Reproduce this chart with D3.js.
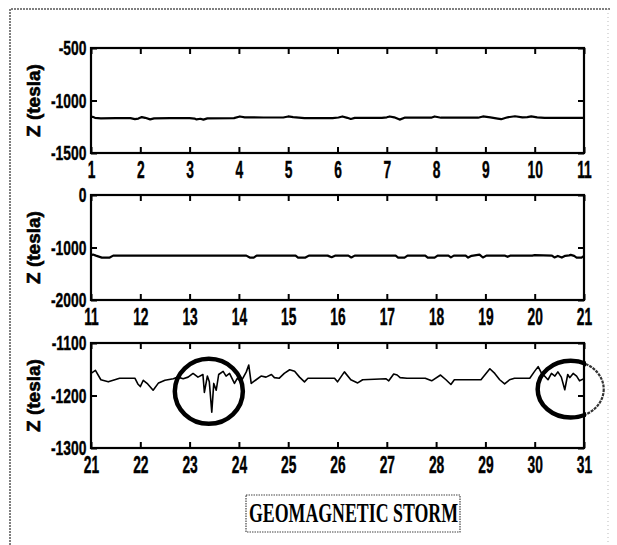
<!DOCTYPE html>
<html>
<head>
<meta charset="utf-8">
<script src="https://cdn.jsdelivr.net/npm/d3@7"></script>
<style>
  body { margin: 0; background: #fff; }
  svg { display: block; }
</style>
</head>
<body>
<div id="chart"></div>
<script>
// days and Z values (tesla) for each panel
var days1 = [1.0, 1.03, 1.08, 1.2, 1.5, 1.8, 1.89, 1.96, 2.03, 2.1, 2.2, 2.28, 2.6, 3.0, 3.1, 3.14, 3.22, 3.28, 3.36, 3.9,
    4.02, 4.12, 4.5, 4.9, 5.0, 5.1, 5.33, 5.9, 6.02, 6.1, 6.2, 6.27, 6.35, 6.9, 7.0, 7.06, 7.15, 7.26, 7.36, 7.9,
    7.97, 8.1, 8.85, 8.95, 9.1, 9.25, 9.32, 9.45, 9.6, 9.75, 9.85, 9.93, 10.05, 10.2, 11.0];
var zValues1 = [-1160, -1155, -1165, -1170, -1168, -1168, -1178, -1172, -1158, -1165, -1180, -1170, -1168, -1168, -1172, -1180, -1174, -1182, -1170, -1168,
    -1152, -1160, -1162, -1162, -1152, -1158, -1168, -1168, -1162, -1152, -1165, -1176, -1166, -1166, -1160, -1152, -1160, -1182, -1164, -1164,
    -1152, -1164, -1164, -1152, -1160, -1172, -1178, -1160, -1150, -1160, -1158, -1152, -1160, -1166, -1166];

var days2 = [11.0, 11.04, 11.1, 11.22, 11.38, 11.45, 14.15, 14.22, 14.3, 14.36, 15.15, 15.2, 15.35, 15.42, 15.8, 15.88, 15.95, 16.22, 16.28, 16.35,
    17.18, 17.23, 17.36, 17.42, 17.78, 17.83, 17.97, 18.03, 18.25, 18.3, 18.36, 18.6, 18.65, 18.72, 18.88, 18.95, 19.02, 19.4, 19.45, 19.5,
    19.95, 20.0, 20.35, 20.4, 20.47, 20.55, 20.62, 20.7, 20.73, 20.8, 20.85, 20.95, 21.0];
var zValues2 = [-1150, -1135, -1155, -1192, -1192, -1155, -1155, -1192, -1192, -1155, -1155, -1192, -1192, -1155, -1155, -1185, -1155, -1155, -1190, -1155,
    -1155, -1192, -1192, -1155, -1155, -1192, -1192, -1155, -1155, -1188, -1155, -1155, -1192, -1158, -1135, -1190, -1155, -1155, -1178, -1155,
    -1155, -1145, -1155, -1190, -1160, -1192, -1158, -1150, -1140, -1160, -1192, -1192, -1160];

var days3 = [21.0, 21.09, 21.2, 21.35, 21.45, 21.58, 21.89, 21.95, 22.0, 22.06, 22.15, 22.26, 22.37, 22.5, 22.67, 22.76, 22.87, 22.97, 23.07, 23.17,
    23.27, 23.3, 23.36, 23.4, 23.45, 23.49, 23.54, 23.59, 23.68, 23.74, 23.81, 23.91, 23.97, 24.04, 24.15, 24.2, 24.25, 24.35, 24.45, 24.55,
    24.66, 24.72, 24.82, 24.92, 25.03, 25.13, 25.23, 25.33, 25.4, 25.94, 26.0, 26.14, 26.27, 26.41, 26.51, 26.98, 27.04, 27.14, 27.21, 27.27,
    27.41, 27.78, 27.91, 28.09, 28.2, 28.3, 28.37, 28.91, 29.09, 29.19, 29.29, 29.39, 29.49, 29.59, 29.9, 29.99, 30.07, 30.14, 30.2, 30.27,
    30.34, 30.41, 30.47, 30.54, 30.61, 30.67, 30.71, 30.78, 30.85, 30.91, 31.0];
var zValues3 = [-1158, -1152, -1170, -1174, -1171, -1167, -1167, -1178, -1183, -1171, -1178, -1190, -1176, -1171, -1168, -1165, -1168, -1165, -1158, -1165,
    -1160, -1194, -1163, -1174, -1232, -1177, -1190, -1160, -1154, -1163, -1158, -1177, -1167, -1174, -1155, -1142, -1177, -1170, -1163, -1165,
    -1160, -1166, -1167, -1158, -1151, -1154, -1165, -1174, -1167, -1167, -1174, -1155, -1170, -1176, -1170, -1168, -1172, -1159, -1161, -1166,
    -1167, -1167, -1172, -1161, -1170, -1179, -1170, -1170, -1149, -1158, -1170, -1178, -1170, -1167, -1167, -1155, -1145, -1158, -1163, -1170,
    -1158, -1163, -1155, -1165, -1189, -1160, -1166, -1158, -1163, -1172, -1168];

var xDomains = [[1, 11], [11, 21], [21, 31]];
var yDomains = [[-1500, -500], [-2000, 0], [-1300, -1100]];
var yTicks = [[-1500, -1000, -500], [-2000, -1000, 0], [-1300, -1200, -1100]];

// storm markers on the last panel: [day, Z, half width in days, half height in tesla]
var stormMarks = [[23.39, -1192, 0.69, 62], [30.73, -1188, 0.67, 54]];

var yLabel = "Z (tesla)";
var title = "GEOMAGNETIC STORM";

var width = 617, height = 545;
var plotLeft = 91, plotRight = 584;
var panelTops = [48, 195, 343];
var panelHeight = 105;
var sansBold = "'Liberation Sans', Arial, sans-serif";

var svg = d3.select("#chart").append("svg")
    .attr("width", width)
    .attr("height", height);

// scanned page border
svg.append("path")
    .attr("d", "M10,545 L10,9 L610,9")
    .attr("fill", "none")
    .attr("stroke", "#555")
    .attr("stroke-width", 1.5)
    .attr("stroke-dasharray", "2,1");
svg.append("line")
    .attr("x1", 608).attr("x2", 608).attr("y1", 9).attr("y2", 545)
    .attr("stroke", "#bbb")
    .attr("stroke-width", 1)
    .attr("stroke-dasharray", "1,3");

var allDays = [days1, days2, days3];
var allValues = [zValues1, zValues2, zValues3];

allDays.forEach(function (days, i) {
    var top = panelTops[i];
    var x = d3.scaleLinear().domain(xDomains[i]).range([plotLeft, plotRight]);
    var y = d3.scaleLinear().domain(yDomains[i]).range([top + panelHeight, top]);
    var g = svg.append("g");

    g.append("clipPath")
        .attr("id", "clip" + i)
        .append("rect")
        .attr("x", plotLeft).attr("y", top)
        .attr("width", plotRight - plotLeft).attr("height", panelHeight);

    var xTicks = d3.range(xDomains[i][0], xDomains[i][1] + 1);

    // bottom axis with labels, ticks pointing inward
    var bottom = g.append("g")
        .attr("transform", `translate(0,${top + panelHeight})`)
        .call(d3.axisBottom(x).tickValues(xTicks).tickSizeInner(-6).tickSizeOuter(0).tickPadding(9).tickFormat(d3.format("d")));
    bottom.attr("font-size", 23).attr("font-family", sansBold).attr("font-weight", "bold");
    bottom.selectAll("text")
        .attr("stroke", "#000").attr("stroke-width", 0.4)
        .attr("transform", "scale(0.6,1)");

    g.append("g")
        .attr("transform", `translate(0,${top})`)
        .call(d3.axisTop(x).tickValues(xTicks).tickSizeInner(-6).tickSizeOuter(0).tickFormat(""));

    var left = g.append("g")
        .attr("transform", `translate(${plotLeft},0)`)
        .call(d3.axisLeft(y).tickValues(yTicks[i]).tickSizeInner(-6).tickSizeOuter(0).tickPadding(7).tickFormat(function (d) { return String(d); }));
    left.attr("font-size", 21).attr("font-family", sansBold).attr("font-weight", "bold");
    left.selectAll("text")
        .attr("stroke", "#000").attr("stroke-width", 0.4)
        .attr("transform", "scale(0.66,1)");

    g.append("g")
        .attr("transform", `translate(${plotRight},0)`)
        .call(d3.axisRight(y).tickValues(yTicks[i]).tickSizeInner(-6).tickSizeOuter(0).tickFormat(""));

    g.selectAll(".domain").remove();
    g.selectAll(".tick line").attr("stroke", "#000").attr("stroke-width", 2);

    g.append("rect")
        .attr("x", plotLeft).attr("y", top)
        .attr("width", plotRight - plotLeft).attr("height", panelHeight)
        .attr("fill", "none")
        .attr("stroke", "#000")
        .attr("stroke-width", 2.2);

    var data = d3.zip(days, allValues[i]);
    g.append("path")
        .datum(data)
        .attr("clip-path", `url(#clip${i})`)
        .attr("fill", "none")
        .attr("stroke", "#000")
        .attr("stroke-width", i === 2 ? 1.6 : 2.2)
        .attr("stroke-linejoin", "round")
        .attr("d", d3.line()
            .x(function (d) { return x(d[0]); })
            .y(function (d) { return y(d[1]); }));

    g.append("text")
        .attr("font-family", sansBold)
        .attr("font-weight", "bold")
        .attr("font-size", 19)
        .attr("stroke", "#000")
        .attr("stroke-width", 0.6)
        .attr("text-anchor", "middle")
        .attr("transform", `translate(40,${top + panelHeight / 2}) rotate(-90)`)
        .text(yLabel);

    if (i === 2) {
        svg.append("clipPath").attr("id", "inside")
            .append("rect").attr("x", 0).attr("y", 0).attr("width", plotRight + 2).attr("height", height);
        svg.append("clipPath").attr("id", "outside")
            .append("rect").attr("x", plotRight + 2).attr("y", 0).attr("width", width).attr("height", height);

        stormMarks.forEach(function (m) {
            var cx = x(m[0]), cy = y(m[1]);
            var rx = x(m[0] + m[2]) - cx, ry = y(m[1] - m[3]) - cy;
            g.append("ellipse")
                .attr("clip-path", "url(#inside)")
                .attr("cx", cx).attr("cy", cy).attr("rx", rx).attr("ry", ry)
                .attr("fill", "none")
                .attr("stroke", "#000")
                .attr("stroke-width", 4.5);
            g.append("ellipse")
                .attr("clip-path", "url(#outside)")
                .attr("cx", cx).attr("cy", cy).attr("rx", rx).attr("ry", ry)
                .attr("fill", "none")
                .attr("stroke", "#333")
                .attr("stroke-width", 2.2)
                .attr("stroke-dasharray", "3,1");
        });
    }
});

// title box
svg.append("rect")
    .attr("x", 246).attr("y", 495)
    .attr("width", 214).attr("height", 37)
    .attr("fill", "none")
    .attr("stroke", "#444")
    .attr("stroke-width", 1.2)
    .attr("stroke-dasharray", "1.5,1");

svg.append("text")
    .attr("x", 249)
    .attr("y", 522)
    .attr("textLength", 209)
    .attr("lengthAdjust", "spacingAndGlyphs")
    .attr("font-family", "'Liberation Serif', 'Times New Roman', serif")
    .attr("font-weight", "bold")
    .attr("font-size", 27)
    .attr("fill", "#000")
    .text(title);
</script>
</body>
</html>
